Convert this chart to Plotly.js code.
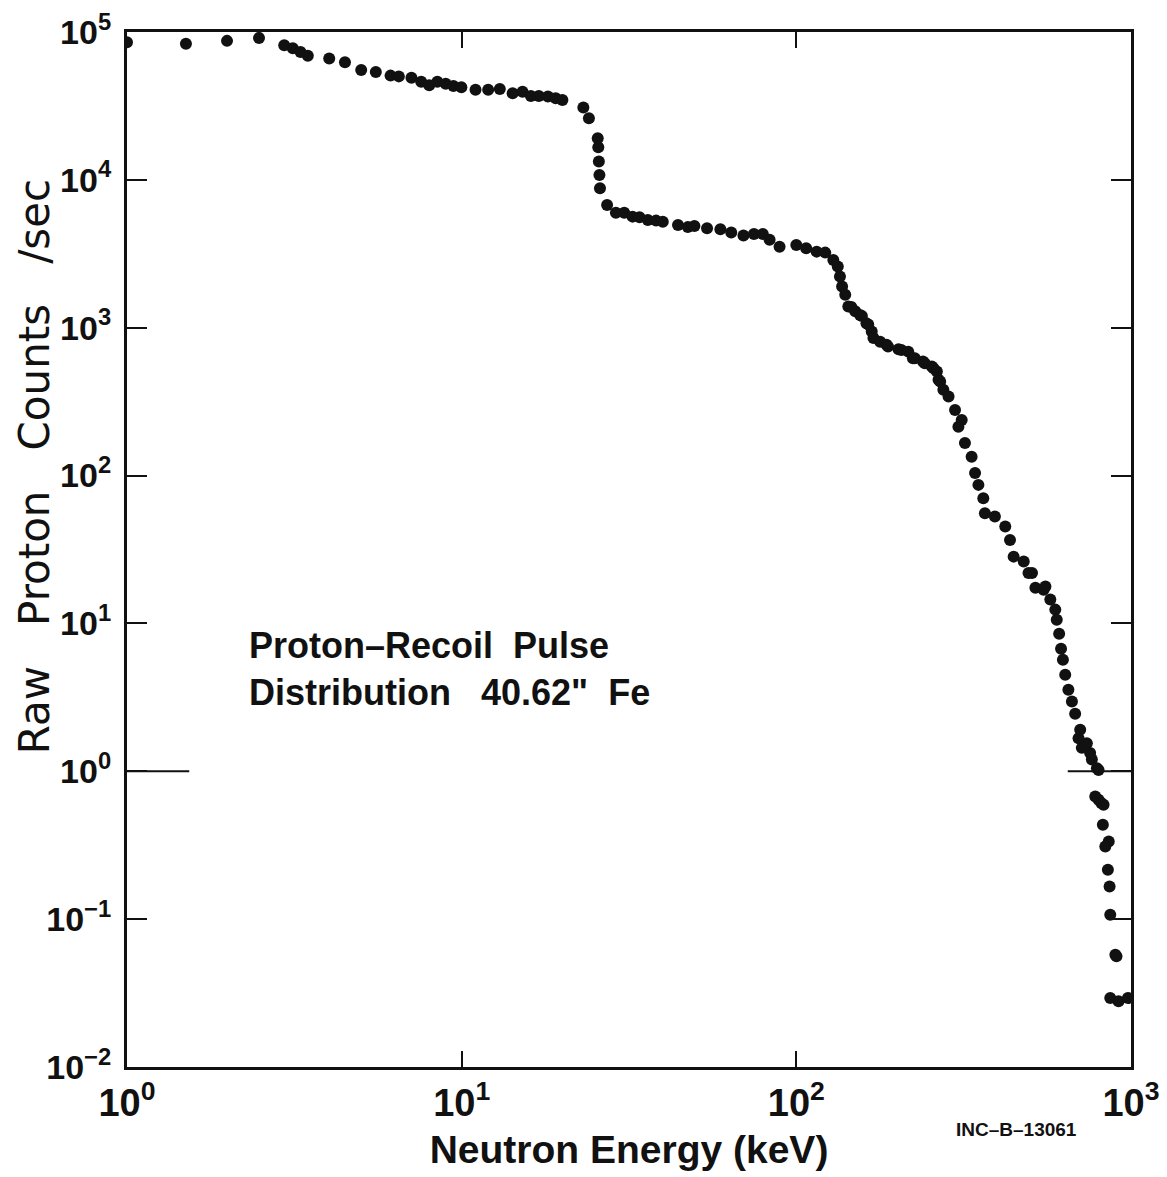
<!DOCTYPE html>
<html>
<head>
<meta charset="utf-8">
<script src="https://cdn.plot.ly/plotly-3.0.1.min.js"></script>
<style>html,body{margin:0;padding:0;background:#fff;}</style>
</head>
<body>
<div id="chart" style="width:1167px;height:1177px;"></div>
<script>
// Neutron energy (keV)
const energyKeV = [
  1.0, 1.5, 1.99, 2.48, 2.95, 3.13, 3.3, 3.47, 4.02, 4.48,
  5.01, 5.54, 6.13, 6.49, 7.08, 7.57, 8.0, 8.46, 8.96, 9.45,
  9.98, 11.0, 12.0, 13.0, 14.2, 15.2, 16.1, 17.0, 18.1, 19.1,
  20.0, 23.1, 24.0, 25.5, 25.6, 25.7, 25.8, 25.9, 27.2, 28.9,
  30.6, 32.4, 34.0, 36.0, 38.1, 39.9, 44.3, 47.4, 49.6, 54.1,
  59.3, 63.9, 69.5, 74.7, 79.4, 83.2, 89.1, 100, 107, 115,
  122, 129, 133, 135, 137, 140, 143, 146, 150, 155,
  157, 162, 164, 168, 170, 178, 186, 188, 202, 206,
  216, 223, 226, 239, 242, 254, 257, 263, 266, 269,
  275, 285, 298, 305, 312, 319, 334, 342, 350, 362,
  366, 392, 421, 435, 446, 478, 494, 506, 518, 548,
  555, 574, 594, 600, 610, 618, 626, 636, 650, 666,
  681, 697, 705, 713, 738, 755, 764, 791, 800, 782,
  800, 815, 828, 824, 858, 838, 853, 863, 867, 898,
  905, 867, 918, 979
];
// Raw proton counts per second
const countsPerSec = [
  85100, 83200, 87100, 91200, 81300, 77600, 73300, 69200, 66100, 62400,
  55300, 53700, 50700, 50100, 49000, 46100, 43700, 46100, 44700, 43200,
  42300, 40700, 40700, 41200, 38500, 39400, 36900, 36900, 36600, 35600,
  34700, 30900, 26100, 19100, 16600, 13300, 10800, 8770, 6760, 6000,
  6000, 5640, 5580, 5360, 5300, 5210, 4950, 4790, 4880, 4710,
  4630, 4400, 4200, 4310, 4310, 3930, 3530, 3630, 3450, 3270,
  3220, 2870, 2590, 2220, 1900, 1670, 1390, 1380, 1290, 1220,
  1200, 1070, 1050, 942, 851, 805, 766, 745, 716, 708,
  689, 622, 622, 590, 575, 546, 532, 505, 444, 433,
  380, 342, 278, 214, 238, 166, 134, 104, 86.5, 70.3,
  55.7, 52.8, 45.2, 36.7, 28.3, 26.2, 21.9, 21.9, 17.4, 16.9,
  17.8, 14.5, 12.4, 10.6, 8.51, 6.73, 5.68, 4.50, 3.56, 2.96,
  2.45, 1.67, 1.91, 1.44, 1.55, 1.33, 1.20, 1.05, 1.02, 0.676,
  0.641, 0.610, 0.593, 0.435, 0.335, 0.310, 0.216, 0.166, 0.107, 0.0575,
  0.0562, 0.0293, 0.0278, 0.0293
];
const xTickVals = [1, 10, 100, 1000];
const xTickText = ['10<sup>0</sup>', '10<sup>1</sup>', '10<sup>2</sup>', '10<sup>3</sup>'];
const yTickVals = [0.01, 0.1, 1, 10, 100, 1000, 10000, 100000];
const yTickText = ['10<sup>−2</sup>', '10<sup>−1</sup>', '10<sup>0</sup>', '10<sup>1</sup>', '10<sup>2</sup>', '10<sup>3</sup>', '10<sup>4</sup>', '10<sup>5</sup>'];
const longTickValue = 1;

const FONT = 'Liberation Sans, Arial, sans-serif';
const WIDE = 'DejaVu Sans, Liberation Sans, sans-serif';

const trace = {
  x: energyKeV,
  y: countsPerSec,
  type: 'scatter',
  mode: 'markers',
  marker: {color: '#111', size: 12, line: {width: 0}},
  hoverinfo: 'x+y',
  showlegend: false
};

const layout = {
  width: 1167,
  height: 1177,
  margin: {l: 127, r: 36, t: 32, b: 110},
  paper_bgcolor: '#fff',
  plot_bgcolor: '#fff',
  font: {family: FONT, color: '#111'},
  xaxis: {
    type: 'log',
    range: [0, 3],
    tickvals: xTickVals,
    ticktext: xTickText,
    ticks: 'inside',
    ticklen: 16,
    tickwidth: 2,
    tickcolor: '#111',
    showline: true,
    linewidth: 3,
    linecolor: '#111',
    mirror: 'ticks',
    showgrid: false,
    zeroline: false,
    tickfont: {size: 38, family: FONT, weight: 'bold'},
    title: {text: 'Neutron Energy (keV)', font: {size: 39, family: FONT, weight: 'bold'}, standoff: 14}
  },
  yaxis: {
    type: 'log',
    range: [-2, 5],
    tickvals: yTickVals,
    ticktext: yTickText,
    ticks: 'inside',
    ticklen: 20,
    tickwidth: 2,
    tickcolor: '#111',
    showline: true,
    linewidth: 3,
    linecolor: '#111',
    mirror: 'ticks',
    showgrid: false,
    zeroline: false,
    tickfont: {size: 34, family: FONT, weight: 'bold'},
    ticklabelstandoff: 6
  },
  shapes: [
    {type: 'line', xref: 'paper', yref: 'y', x0: 0, x1: 0.062, y0: longTickValue, y1: longTickValue,
     line: {color: '#111', width: 2}},
    {type: 'line', xref: 'paper', yref: 'y', x0: 0.937, x1: 1, y0: longTickValue, y1: longTickValue,
     line: {color: '#111', width: 2}}
  ],
  annotations: [
    {
      xref: 'paper', yref: 'paper', x: -0.092, y: 0.58,
      text: 'Raw   Proton   Counts   /sec', textangle: -90,
      showarrow: false, xanchor: 'center', yanchor: 'middle',
      font: {size: 42, family: WIDE}
    },
    {
      xref: 'paper', yref: 'paper', x: 0.12, y: 0.385,
      text: 'Proton–Recoil  Pulse<br>Distribution   40.62"  Fe',
      align: 'left', showarrow: false, xanchor: 'left', yanchor: 'middle',
      font: {size: 36, family: FONT, weight: 'bold'}
    },
    {
      xref: 'paper', yref: 'paper', x: 0.886, y: -0.06,
      text: 'INC–B–13061', showarrow: false, xanchor: 'center', yanchor: 'middle',
      font: {size: 19, family: FONT, weight: 'bold'}
    }
  ]
};

Plotly.newPlot('chart', [trace], layout, {displayModeBar: false, staticPlot: false});
</script>
</body>
</html>
